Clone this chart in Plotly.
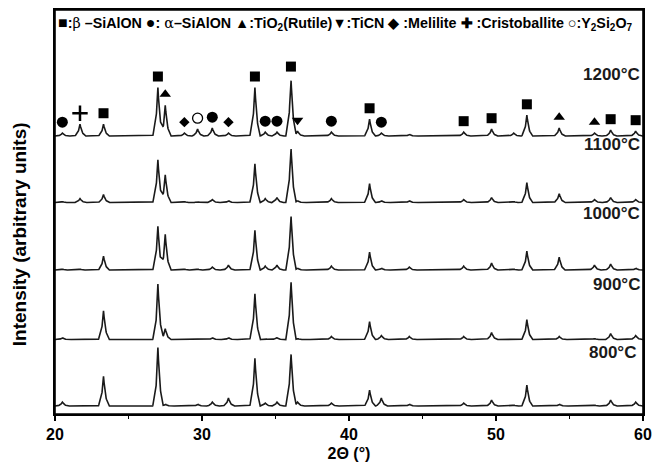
import numpy as np
import plotly.graph_objects as go

# ---------------- data ----------------
TEMPS = ["800", "900", "1000", "1100", "1200"]

# peak positions (2θ, degrees)
PEAK_POS = [20.5, 21.7, 23.3, 27.0, 27.5, 28.8, 29.7, 30.7, 31.8, 33.6, 34.3, 35.1,
            36.05, 36.5, 38.8, 41.4, 42.2, 44.1, 47.8, 49.7, 51.2, 52.1, 54.3, 56.7,
            57.8, 59.5]

# peak intensities (arbitrary units) for each temperature
I_800 = [4, 0, 30, 59, 2, 0, 2, 4, 8, 48, 3, 4, 55, 4, 3, 16, 8, 2, 3, 6, 1, 21, 2, 1, 6, 4]
I_900 = [2, 0, 29, 56, 11, 0, 0, 2, 2, 46, 1, 2, 61, 1, 3, 18, 4, 3, 3, 7, 0, 20, 3, 1, 6, 4]
I_1000 = [1, 1, 14, 44, 36, 1, 1, 3, 5, 40, 4, 5, 57, 2, 4, 18, 2, 3, 4, 7, 1, 19, 13, 5, 6, 2]
I_1100 = [1, 4, 8, 43, 28, 1, 1, 3, 2, 39, 4, 5, 57, 2, 4, 19, 2, 2, 3, 5, 1, 20, 9, 3, 5, 3]
I_1200 = [3, 12, 12, 49, 31, 3, 7, 8, 3, 49, 4, 4, 59, 5, 4, 17, 3, 2, 4, 7, 3, 21, 8, 3, 6, 5]
INTENSITIES = [I_800, I_900, I_1000, I_1100, I_1200]

# phase identification of 1200 °C peaks
BETA_SIALON = [23.3, 27.0, 33.6, 36.05, 41.4, 47.8, 49.7, 52.1, 57.8, 59.5]
ALPHA_SIALON = [20.5, 30.7, 34.3, 35.1, 38.8, 42.2]
TIO2_RUTILE = [27.5, 54.3, 56.7]
TICN = [36.5]
MELILITE = [28.8, 31.8]
CRISTOBALITE = [21.7]
Y2SI2O7 = [29.7]

X_TICKS = [20, 30, 40, 50, 60]

# ---------------- layout / style constants ----------------
OFFSETS = [8, 75, 145, 213, 280]      # vertical stacking of patterns
LABEL_DY = [54, 55, 57, 59, 62]
MARK_GAP = 11
FONT = "Liberation Sans, Arial, sans-serif"

x = np.round(np.arange(20.0, 60.0001, 0.02), 3)
shape_dx = np.array([-0.35, -0.12, 0.0, 0.12, 0.35])
shape_fy = np.array([0.0, 0.35, 1.0, 0.35, 0.0])


def pattern(heights):
    y = np.zeros_like(x)
    for p, h in zip(PEAK_POS, heights):
        if h > 0:
            y += np.interp(x, p + shape_dx, h * shape_fy, left=0, right=0)
    return y


fig = go.Figure()
for t, ints, off, dy in zip(TEMPS, INTENSITIES, OFFSETS, LABEL_DY):
    fig.add_trace(go.Scatter(x=x, y=pattern(ints) + off, mode="lines",
                             line=dict(color="#1a1a1a", width=1.6),
                             showlegend=False, hoverinfo="skip"))
    fig.add_annotation(x=1, xref="paper", y=off + dy, yref="y",
                       text=f"<b>{t}°C</b>", showarrow=False, xanchor="right",
                       xshift=-1 if t != "800" else -5,
                       font=dict(family=FONT, size=17, color="#1a1a1a"))

h1200 = dict(zip(PEAK_POS, I_1200))
top_off = OFFSETS[-1]


def marks(positions, symbol, size, color="black", line=None):
    ys = [h1200[p] + MARK_GAP + top_off for p in positions]
    mk = dict(symbol=symbol, size=size, color=color)
    if line:
        mk["line"] = line
    fig.add_trace(go.Scatter(x=positions, y=ys, mode="markers", marker=mk,
                             showlegend=False, hoverinfo="skip", cliponaxis=False))


marks(BETA_SIALON, "square", 10)
marks(ALPHA_SIALON, "circle", 11)
marks(TIO2_RUTILE, "triangle-up", 10)
marks(TICN, "triangle-down", 10)
marks(MELILITE, "diamond", 8)
marks(CRISTOBALITE, "cross-thin", 11, line=dict(color="black", width=2.5))
marks(Y2SI2O7, "circle-open", 10, line=dict(color="black", width=1.3))

GREEK = "font-family:'DejaVu Serif',serif;font-weight:normal"
BIG = "font-size:16px"
legend_txt = ("<b><span style=\"%s\">■</span>:<span style=\"%s\">β</span> –SiAlON "
              "<span style=\"%s\">●</span>: <span style=\"%s\">α</span>–SiAlON "
              "▲:TiO<sub>2</sub>(Rutile)▼:TiCN ◆ :Melilite ✚ :Cristoballite "
              "○:Y<sub>2</sub>Si<sub>2</sub>O<sub>7</sub></b>") % (BIG, GREEK, BIG, GREEK)
fig.add_annotation(x=0, xref="paper", y=1, yref="paper", text=legend_txt,
                   showarrow=False, xanchor="left", yanchor="top", xshift=1, yshift=-2,
                   font=dict(family=FONT, size=14.3, color="black"))

# y-axis title
fig.add_annotation(x=0, xref="paper", y=0.445, yref="paper",
                   text="<b>Intensity (arbitrary units)</b>", textangle=-90,
                   showarrow=False, xanchor="center", yanchor="middle", xshift=-36,
                   font=dict(family=FONT, size=19, color="black"))

# plot frame
fig.add_shape(type="rect", xref="paper", yref="paper", x0=0, x1=1, y0=0, y1=1,
              line=dict(color="black", width=1.6), layer="above")

# the page body has an 8px margin: figure is shrunk/shifted to compensate
fig.update_layout(
    width=652, height=462,
    margin=dict(l=47, r=17, t=0, b=56),
    plot_bgcolor="white", paper_bgcolor="white",
    font=dict(family=FONT, color="black"),
    xaxis=dict(range=[20, 60], tickvals=X_TICKS, ticks="outside", ticklen=5,
               tickwidth=1.5, tickcolor="black", showline=True, linewidth=1.5,
               linecolor="black", mirror=True, showgrid=False, zeroline=False,
               tickfont=dict(family=FONT, size=16, weight="bold"),
               minor=dict(dtick=5, ticks="outside", ticklen=3, tickwidth=1.2,
                          tickcolor="black", showgrid=False),
               title=dict(text="<b>2Θ (°)</b>", font=dict(family=FONT, size=16),
                          standoff=6)),
    yaxis=dict(range=[0, 407], showticklabels=False, ticks="", showline=True,
               linewidth=1.5, linecolor="black", mirror=True, showgrid=False,
               zeroline=False),
)

fig.write_html("out.html")
